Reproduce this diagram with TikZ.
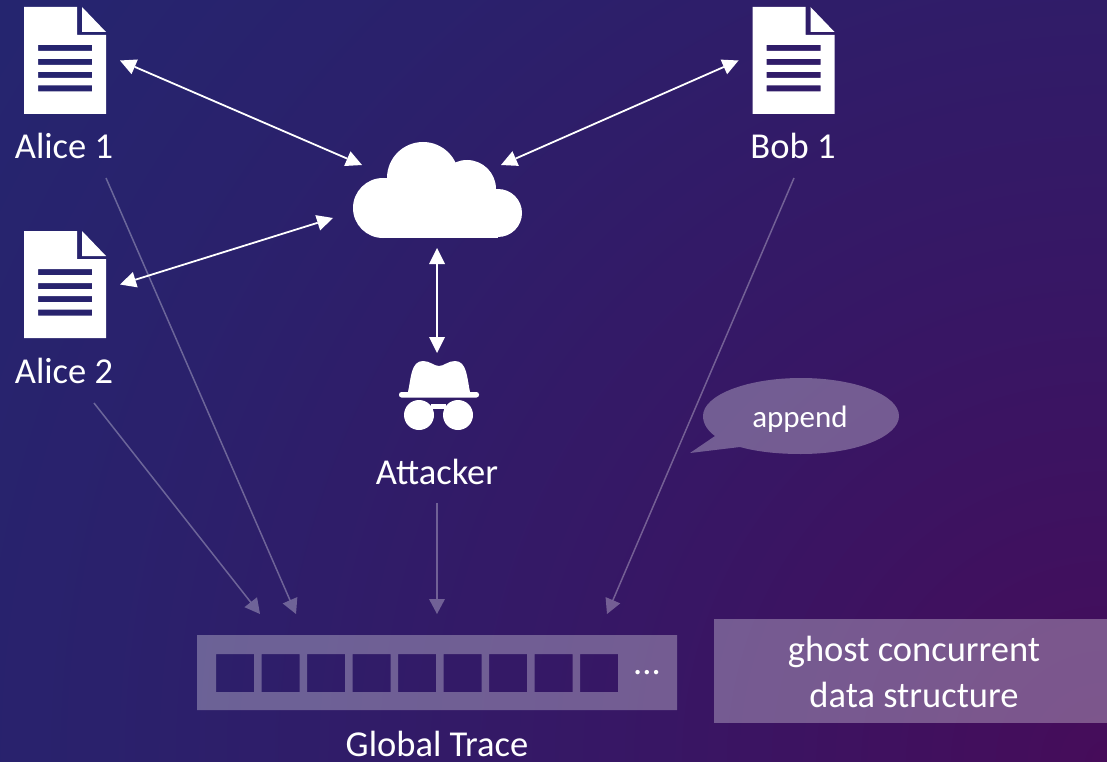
\documentclass[tikz,border=0pt]{standalone}
\usepackage{fontspec}
\setmainfont{Carlito}
\usetikzlibrary{arrows.meta}
\definecolor{glow0}{RGB}{70,12,90}
\definecolor{glow1}{RGB}{56,22,100}
\definecolor{glow2}{RGB}{42,33,108}
\definecolor{glow3}{RGB}{30,43,116}
\pgfdeclareradialshading{bgglow}{\pgfpointorigin}{color(0bp)=(glow0);color(8bp)=(glow1);color(18bp)=(glow2);color(32bp)=(glow3);color(50bp)=(glow3)}
\tikzset{
  doc icon/.pic={
    \fill[white,even odd rule] (-41,-53.5) -- (12,-53.5) -- (12,-25.5) -- (41,-25.5) -- (41,53.5) -- (-41,53.5) -- cycle
      foreach \y in {-15.5,-1.5,11.5,25} {(-27,\y) rectangle (27,\y+6)};
    \fill[white] (17,-53.5) -- (41,-28.5) -- (17,-28.5) -- cycle;
    \node[doc box] (-box) at (0,0) {};
  }
}
\begin{document}
\begin{tikzpicture}[x=1pt,y=-1pt,font=\fontsize{36.5}{46}\selectfont,text=white,
  doc box/.style={minimum width=82pt,minimum height=107pt,inner sep=0pt,outer xsep=14pt,outer ysep=0pt},
  main label/.style={inner sep=0pt,align=center,text=white},
  base label/.style={main label,anchor=base},
  wide arrow/.style={white,line width=1.8pt,{Triangle[length=16pt,width=16pt,line width=0pt]}-{Triangle[length=16pt,width=16pt,line width=0pt]}},
  pale arrow/.style={white,opacity=0.31,line width=1.5pt,-{Triangle[length=15pt,width=16pt,line width=0pt]}},
  panel/.style={fill=white,fill opacity=0.3}]
  \useasboundingbox (0,0) rectangle (1107,762);
  \begin{scope}
    \clip (0,0) rectangle (1107,762);
    \shade[shading=bgglow] (1107,762) circle[radius=1400];
  \end{scope}

  \pic (alice1) at (65,60.5) {doc icon};
  \pic (alice2) at (65,284.5) {doc icon};
  \pic (bob1) at (793.5,60.5) {doc icon};
  \node[base label] (alice1text) at (64,159) {Alice 1};
  \node[base label] (alice2text) at (64,383) {Alice 2};
  \node[base label] (bob1text) at (793,159) {Bob 1};

  % cloud
  \node[minimum width=170pt,minimum height=96pt,inner sep=0pt] (cloud) at (437,190) {};
  \fill[white] (383,208) circle[radius=30];
  \fill[white] (498,213) circle[radius=24];
  \fill[white] (423,178) circle[radius=36];
  \fill[white] (467,189) circle[radius=29];
  \fill[white] (383,208) rectangle (498,237.5);
  \fill[white] (383,178) rectangle (488,210);
  \coordinate (cloudnw) at ([shift={(-75,-25)}]cloud.center);
  \coordinate (cloudw) at ([shift={(-104,28)}]cloud.center);
  \coordinate (cloudne) at ([shift={(64,-25)}]cloud.center);
  \coordinate (clouds) at ([shift={(0,58)}]cloud.center);

  % attacker
  \node[minimum width=80pt,minimum height=70pt,inner sep=0pt,outer ysep=7pt] (spy) at (437,395) {};
  \fill[white] (408,392) .. controls (411,378) and (411,361) .. (423,361)
    .. controls (430,361) and (434,366) .. (439,366)
    .. controls (444,366) and (448,361) .. (455,361)
    .. controls (467,361) and (467,378) .. (470,392) -- cycle;
  \fill[white,rounded corners=2.5pt] (399,392) rectangle (479,397.5);
  \fill[white] (419,415) circle[radius=15];
  \fill[white] (458,415) circle[radius=15];
  \fill[white] (431,404) rectangle (446,409);
  \node[base label] (attacker) at (437,484) {Attacker};

  % trace
  \node[minimum width=480pt,minimum height=75pt,inner sep=0pt] (trace) at (437,672.5) {};
  \fill[panel,even odd rule] (197,635) rectangle (677,710)
    foreach \i in {0,...,8} {(216+\i*45.5,654) rectangle +(38,38)};
  \node[base label] (dots) at (647,674.5) {...};
  \node[base label] (tracetext) at (437,756) {Global Trace};
  \fill[panel] (714,619) rectangle (1107,723);
  \node[main label] (ghost) at (914,672) {ghost concurrent\\data structure};

  % speech bubble
  \fill[panel] (715,436) -- (690,453) -- (740,447)
    .. controls (758,452) and (779,454) .. (801,454)
    .. controls (855,454) and (899,437) .. (899,416)
    .. controls (899,395) and (855,378) .. (801,378)
    .. controls (747,378) and (703,395) .. (703,416)
    .. controls (703,424) and (708,431) .. (715,436) -- cycle;
  \node[base label] (append) at (800,427) {\fontsize{31}{36}\selectfont append};

  \coordinate (alice1out) at (106,178);
  \coordinate (alice2out) at (94,403);
  \coordinate (attackerout) at (437,503);
  \coordinate (bob1out) at (794,178);
  \coordinate (slota) at (260,614);
  \coordinate (slotb) at (296,614);
  \coordinate (slotc) at (437,614);
  \coordinate (slotd) at (607,614);

  \path[wide arrow]
    (alice1-box.east) edge (cloudnw)
    (alice2-box.east) edge (cloudw)
    (bob1-box.west) edge (cloudne)
    (clouds) edge (spy.north);
  \path[pale arrow]
    (alice1out) edge (slotb)
    (alice2out) edge (slota)
    (attackerout) edge (slotc)
    (bob1out) edge (slotd);
\end{tikzpicture}
\end{document}
